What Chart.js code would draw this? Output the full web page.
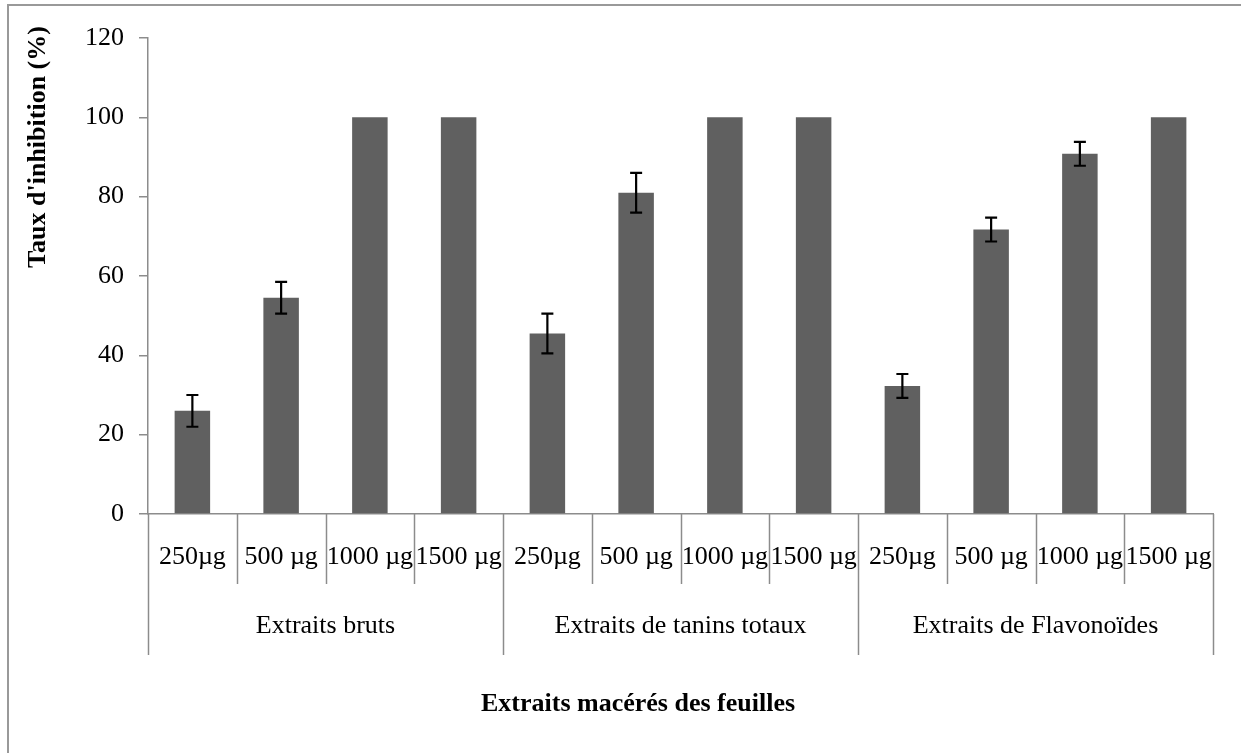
<!DOCTYPE html>
<html>
<head>
<meta charset="utf-8">
<script src="https://cdn.jsdelivr.net/npm/chart.js@4"></script>
<style>
  html, body { margin: 0; padding: 0; background: #fff; }
  #wrap { width: 1241px; height: 753px; position: relative; }
</style>
</head>
<body>
<div id="wrap"><canvas id="chart"></canvas></div>
<script>
// data
const doses = ['250µg', '500 µg', '1000 µg', '1500 µg', '250µg', '500 µg', '1000 µg', '1500 µg', '250µg', '500 µg', '1000 µg', '1500 µg'];
const groups = ['Extraits bruts', 'Extraits de tanins totaux', 'Extraits de Flavonoïdes'];
const inhibition = [26, 54.5, 100, 100, 45.5, 81, 100, 100, 32.3, 71.7, 90.8, 100];
const errors = [4, 4, 0, 0, 5, 5, 0, 0, 3, 3, 3, 0];
const yTicks = [0, 20, 40, 60, 80, 100, 120];

const serif = '"Liberation Serif", "Times New Roman", serif';
const axisGray = '#8c8c8c';

// error bars on top of each bar
const errorBars = {
    id: 'errorBars',
    afterDatasetsDraw(chart) {
        const {ctx, scales} = chart;
        const meta = chart.getDatasetMeta(0);
        ctx.save();
        ctx.strokeStyle = '#000';
        ctx.lineWidth = 2.2;
        meta.data.forEach((bar, i) => {
            if (!errors[i]) return;
            const x = bar.x;
            const yHi = scales.y.getPixelForValue(inhibition[i] + errors[i]);
            const yLo = scales.y.getPixelForValue(inhibition[i] - errors[i]);
            ctx.beginPath();
            ctx.moveTo(x, yHi); ctx.lineTo(x, yLo);
            ctx.moveTo(x - 6, yHi); ctx.lineTo(x + 6, yHi);
            ctx.moveTo(x - 6, yLo); ctx.lineTo(x + 6, yLo);
            ctx.stroke();
        });
        ctx.restore();
    }
};

// two level category axis, titles and outer frame
const decorations = {
    id: 'decorations',
    afterDraw(chart) {
        const {ctx, chartArea, scales} = chart;
        const x = scales.x;
        const bottom = chartArea.bottom;
        const step = (chartArea.right - chartArea.left) / doses.length;
        ctx.save();

        // frame
        ctx.strokeStyle = '#999';
        ctx.lineWidth = 2;
        ctx.beginPath();
        ctx.moveTo(8, 760); ctx.lineTo(8, 5); ctx.lineTo(1250, 5);
        ctx.stroke();

        // separators
        ctx.strokeStyle = axisGray;
        ctx.lineWidth = 1.5;
        for (let i = 0; i <= doses.length; i++) {
            const sx = Math.round(chartArea.left + i * step) + 0.5;
            const len = (i % 4 === 0) ? 141 : 70;
            ctx.beginPath();
            ctx.moveTo(sx, bottom); ctx.lineTo(sx, bottom + len);
            ctx.stroke();
        }

        ctx.fillStyle = '#000';
        ctx.textAlign = 'center';
        ctx.textBaseline = 'middle';
        ctx.font = '26px ' + serif;
        doses.forEach((d, i) => {
            ctx.fillText(d, x.getPixelForValue(i), bottom + 43);
        });
        groups.forEach((g, gi) => {
            const cx = (x.getPixelForValue(gi * 4) + x.getPixelForValue(gi * 4 + 3)) / 2;
            ctx.fillText(g, cx, bottom + 112);
        });

        ctx.font = 'bold 26px ' + serif;
        ctx.fillText('Extraits macérés des feuilles', 638, bottom + 190);

        ctx.translate(38, 147);
        ctx.rotate(-Math.PI / 2);
        ctx.fillText("Taux d'inhibition (%)", 0, 0);
        ctx.restore();
    }
};

new Chart(document.getElementById('chart'), {
    type: 'bar',
    data: {
        labels: doses,
        datasets: [{
            data: inhibition,
            backgroundColor: '#606060',
            borderWidth: 0,
            barPercentage: 0.4,
            categoryPercentage: 1.0
        }]
    },
    options: {
        responsive: true,
        maintainAspectRatio: false,
        animation: false,
        layout: { padding: { left: 0, top: 38, right: 28, bottom: 0 } },
        plugins: { legend: { display: false }, tooltip: { enabled: false } },
        scales: {
            x: {
                grid: { display: false },
                border: { color: axisGray, width: 1.5 },
                ticks: { display: false },
                afterFit: (scale) => { scale.height = 239; }
            },
            y: {
                min: 0,
                max: 120,
                afterBuildTicks: (scale) => { scale.ticks = yTicks.map(v => ({ value: v })); },
                grid: { drawOnChartArea: false, tickLength: 9, color: axisGray, lineWidth: 1.5 },
                border: { color: axisGray, width: 1.5 },
                ticks: { color: '#000', padding: 15, font: { family: serif, size: 26 } },
                afterFit: (scale) => { scale.width = 148; }
            }
        }
    },
    plugins: [errorBars, decorations]
});
</script>
</body>
</html>
